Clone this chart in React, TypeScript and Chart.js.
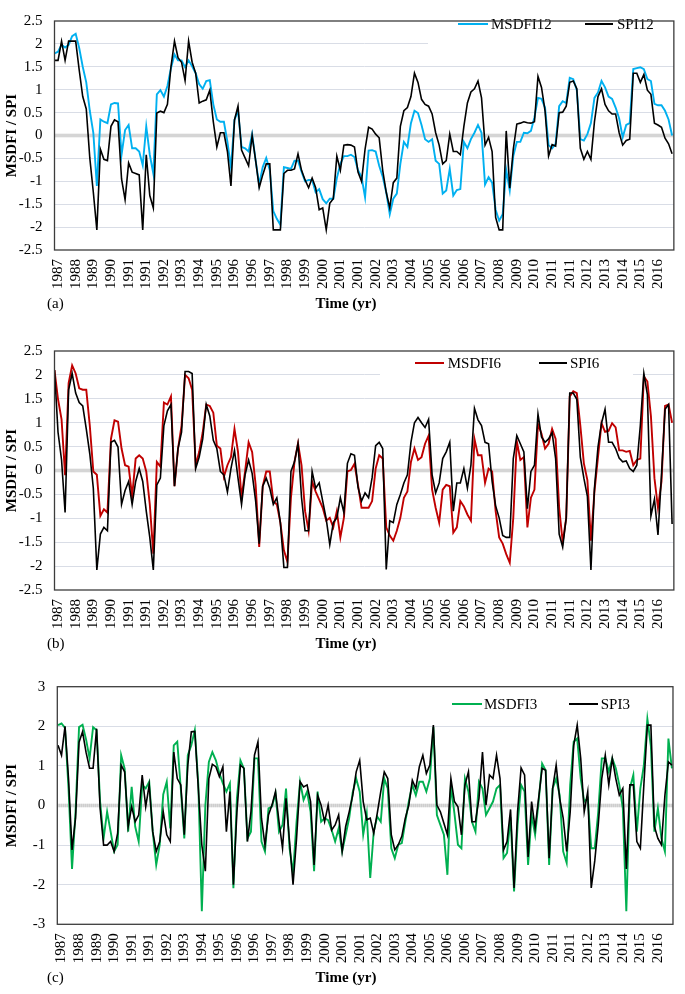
import React, { useEffect, useRef } from 'react';
import { Chart, registerables } from 'chart.js';

Chart.register(...registerables);

// ---------- data ----------
const YEAR_LABELS = [
  '1987', '1988', '1989', '1990', '1991', '1991', '1992', '1993', '1994', '1995',
  '1996', '1996', '1997', '1998', '1999', '2000', '2001', '2001', '2002', '2003',
  '2004', '2005', '2006', '2006', '2007', '2008', '2009', '2010', '2011', '2011',
  '2012', '2013', '2014', '2015', '2016',
];
const LABEL_START = 2; // month index of first labelled category
const LABEL_EVERY = 10; // months between labels
const SAMPLE_STEP = 2; // months between data samples

const MSDFI12 = [
  1.79, 1.83, 1.98, 1.92, 1.98, 2.17, 2.22, 1.91, 1.5, 1.16, 0.54, 0.06, -1.1, 0.35, 0.3, 0.27, 0.68, 0.71, 0.7, -0.42, 0.12, 0.23,
  -0.28, -0.28, -0.35, -0.65, 0.2, -0.42, -0.83, 0.9, 0.99, 0.85, 1.08, 1.47, 1.77, 1.64, 1.64, 1.49, 1.64, 1.51, 1.36, 1.12, 1.02, 1.19,
  1.21, 0.68, 0.35, 0.3, 0.3, -0.14, -0.7, 0.34, 0.54, -0.25, -0.28, -0.35, 0.03, -0.55, -1.07, -0.69, -0.49, -0.76, -1.65, -1.82, -1.95, -0.69,
  -0.71, -0.73, -0.55, -0.55, -0.79, -1.0, -0.97, -0.97, -1.24, -1.17, -1.39, -1.48, -1.38, -1.38, -0.93, -0.62, -0.45, -0.45, -0.42, -0.47, -0.76, -0.9,
  -1.35, -0.33, -0.32, -0.35, -0.66, -0.9, -1.24, -1.72, -1.38, -1.27, -0.62, -0.14, -0.25, 0.27, 0.54, 0.49, 0.23, -0.08, -0.14, -0.08, -0.55, -0.62,
  -1.27, -1.2, -0.73, -1.31, -1.19, -1.17, -0.14, -0.28, -0.08, 0.06, 0.23, 0.06, -1.07, -0.91, -1.03, -1.62, -1.86, -1.72, -0.75, -1.2, -0.45, -0.14,
  -0.14, 0.06, 0.05, 0.1, 0.4, 0.82, 0.8, 0.61, -0.21, -0.28, -0.18, 0.64, 0.75, 0.71, 1.26, 1.23, 0.99, -0.08, -0.11, 0.03, 0.27, 0.82,
  0.94, 1.19, 1.05, 0.85, 0.8, 0.61, 0.37, -0.04, 0.23, 0.27, 1.45, 1.47, 1.49, 1.45, 1.23, 1.19, 0.69, 0.66, 0.66, 0.54, 0.35, 0.0,
];
const SPI12 = [
  1.64, 1.64, 2.06, 1.64, 2.06, 2.06, 2.06, 1.43, 0.85, 0.58, -0.49, -1.24, -2.06, -0.3, -0.52, -0.55, 0.2, 0.34, 0.3, -0.95, -1.4, -0.6,
  -0.8, -0.83, -0.86, -2.06, -0.42, -1.31, -1.58, 0.49, 0.53, 0.5, 0.68, 1.5, 2.06, 1.7, 1.6, 1.2, 2.06, 1.6, 1.36, 0.71, 0.75, 0.78,
  0.99, 0.3, -0.25, 0.06, 0.06, -0.35, -1.1, 0.34, 0.64, -0.32, -0.49, -0.66, 0.0, -0.55, -1.14, -0.86, -0.62, -0.62, -2.06, -2.06, -2.06, -0.83,
  -0.76, -0.76, -0.73, -0.4, -0.76, -0.97, -1.14, -0.93, -1.14, -1.62, -1.58, -2.06, -1.48, -1.38, -0.45, -0.76, -0.21, -0.2, -0.21, -0.25, -0.8, -1.0,
  -0.3, 0.18, 0.14, 0.03, -0.05, -0.76, -1.24, -1.58, -1.03, -0.93, 0.2, 0.54, 0.61, 0.85, 1.36, 1.16, 0.79, 0.68, 0.64, 0.47, 0.06, -0.21,
  -0.62, -0.55, 0.03, -0.35, -0.35, -0.42, 0.2, 0.71, 0.95, 1.02, 1.19, 0.82, -0.21, -0.04, -0.35, -1.79, -2.06, -2.06, 0.1, -1.15, -0.3, 0.25,
  0.27, 0.3, 0.28, 0.27, 0.3, 1.29, 1.05, 0.54, -0.45, -0.2, -0.23, 0.5, 0.51, 0.64, 1.16, 1.19, 1.02, -0.28, -0.52, -0.35, -0.52, 0.3,
  0.85, 1.02, 0.68, 0.54, 0.47, 0.47, 0.06, -0.21, -0.11, -0.08, 1.36, 1.36, 1.16, 1.33, 0.99, 0.9, 0.27, 0.23, 0.18, -0.06, -0.18, -0.4,
];
const MSDFI6 = [
  2.1, 1.49, 1.07, -0.1, 1.83, 2.2, 2.03, 1.72, 1.69, 1.69, 0.94, -0.02, -0.09, -0.95, -0.81, -0.88, 0.66, 1.05, 1.02, 0.46, 0.11, 0.08,
  -0.54, 0.25, 0.32, 0.25, -0.02, -0.71, -1.74, 0.18, 0.08, 1.42, 1.38, 1.55, -0.33, 0.46, 0.94, 2.0, 1.93, 1.69, 0.11, 0.39, 0.8, 1.38,
  1.35, 1.21, 0.52, 0.46, -0.13, 0.11, 0.28, 0.87, 0.39, -0.57, -0.02, 0.59, 0.39, -0.3, -1.6, -0.33, -0.02, -0.02, -0.64, -0.71, -1.09, -1.67,
  -1.91, -0.57, 0.18, 0.57, 0.11, -0.85, -1.26, -0.23, -0.44, -0.61, -0.78, -1.05, -0.99, -1.19, -0.85, -1.4, -0.99, -0.02, 0.01, 0.14, -0.3, -0.78,
  -0.78, -0.78, -0.64, 0.04, 0.32, 0.25, -1.19, -1.36, -1.47, -1.26, -0.99, -0.57, -0.44, 0.18, 0.46, 0.22, 0.28, 0.56, 0.73, -0.4, -0.78, -1.09,
  -0.4, -0.3, -0.33, -1.3, -1.19, -0.64, -0.75, -0.92, -1.05, 0.66, 0.32, 0.32, -0.26, 0.04, -0.02, -0.85, -1.4, -1.53, -1.75, -1.93, -0.99, 0.61,
  0.22, 0.28, -1.19, -0.57, -0.4, 0.97, 0.77, 0.46, 0.56, 0.87, 0.66, -0.78, -1.5, -0.99, 1.55, 1.66, 1.62, 0.94, 0.15, -0.2, -1.47, -0.44,
  0.28, 0.99, 0.81, 0.83, 0.99, 0.9, 0.42, 0.42, 0.39, 0.41, 0.11, 0.22, 0.25, 1.97, 1.86, 1.14, -0.16, -0.78, -0.23, 1.35, 1.38, 1.0,
];
const SPI6 = [
  2.1, 0.8, 0.22, -0.88, 1.69, 2.03, 1.62, 1.42, 1.35, 0.87, 0.35, -0.37, -2.08, -1.33, -1.19, -1.26, 0.59, 0.63, 0.49, -0.71, -0.42, -0.23,
  -0.71, -0.23, 0.04, -0.23, -0.85, -1.4, -2.08, -0.3, -0.16, 0.94, 1.25, 1.38, -0.33, 0.46, 0.8, 2.07, 2.07, 2.03, 0.04, 0.28, 0.66, 1.38,
  1.14, 0.63, 0.46, -0.02, -0.09, -0.45, 0.04, 0.42, -0.16, -0.71, -0.09, 0.22, -0.06, -0.64, -1.53, -0.33, -0.16, -0.37, -0.71, -0.57, -1.09, -2.03,
  -2.03, -0.02, 0.18, 0.56, -0.57, -1.26, -1.26, -0.02, -0.37, -0.26, -0.64, -1.02, -1.55, -1.09, -0.99, -0.57, -0.88, 0.15, 0.35, 0.32, -0.35, -0.64,
  -0.47, -0.57, -0.15, 0.52, 0.59, 0.46, -2.07, -1.05, -1.09, -0.71, -0.5, -0.26, -0.09, 0.59, 1.0, 1.11, 1.0, 0.9, 1.07, -0.09, -0.47, -0.26,
  0.25, 0.39, 0.59, -0.85, -0.26, -0.26, 0.04, -0.37, 0.11, 1.3, 1.06, 0.94, 0.59, 0.56, -0.23, -0.74, -0.99, -1.36, -1.4, -1.4, 0.25, 0.73,
  0.56, 0.39, -0.8, -0.02, 0.11, 1.18, 0.7, 0.59, 0.66, 0.79, 0.25, -1.33, -1.6, -0.99, 1.62, 1.62, 1.49, 0.28, -0.16, -0.54, -2.08, -0.37,
  0.49, 0.99, 1.28, 0.59, 0.59, 0.46, 0.26, 0.18, 0.2, 0.04, -0.02, 0.11, 0.94, 2.03, 1.59, -0.95, -0.6, -1.35, -0.09, 1.28, 1.38, -1.12,
];
const MSDFI3 = [
  2.03, 2.07, 1.96, 0.43, -1.6, -0.16, 1.98, 2.04, 1.67, 1.19, 1.98, 1.9, 0.1, -0.83, -0.16, -0.66, -1.16, -0.99, 1.27, 0.93, -0.66, 0.47,
  -0.53, -0.91, 0.52, 0.43, 0.6, -0.66, -1.5, -0.99, 0.28, 0.6, -0.58, 1.52, 1.61, 0.43, -0.83, 1.27, 1.52, 1.9, 0.52, -2.67, 0.0, 1.1,
  1.35, 1.14, 0.81, 0.56, 0.35, 0.56, -2.09, 0.18, 1.14, 0.93, -0.83, -0.66, 1.19, 1.19, -0.91, -1.16, -0.07, -0.03, 0.31, -0.66, -0.49, 0.43,
  -1.08, -1.71, -0.41, 0.6, 0.14, 0.35, -0.16, -1.66, 0.35, -0.41, -0.32, -0.37, -0.62, -0.91, -0.58, -1.16, -0.74, -0.32, 0.33, 0.68, 0.35, -0.74,
  -0.2, -1.83, -0.66, -0.28, -0.41, 0.68, 0.43, -1.08, -1.33, -0.99, -0.95, -0.41, 0.1, 0.52, 0.26, 0.6, 0.6, 0.35, 0.68, 1.98, -0.24, -0.49,
  -0.74, -1.75, 0.52, -0.2, -0.99, -1.08, 0.68, 0.35, -0.41, -0.66, 0.6, 0.43, -0.24, -0.07, 0.1, 0.43, 0.52, -1.33, -1.2, -0.3, -2.17, -0.49,
  0.52, 0.35, -1.5, -0.24, -0.74, 0.1, 1.06, 0.89, -1.5, 0.43, 0.68, 0.26, -1.16, -1.45, 0.52, 1.61, 1.69, 0.68, 0.1, 0.18, -1.08, -1.08,
  -0.16, 1.19, 1.19, 0.85, 1.19, 0.94, 0.52, -0.07, -2.67, 0.43, 0.77, -0.66, 0.43, 1.02, 2.19, 1.5, -0.66, -0.07, -0.83, -1.16, 1.69, 0.94,
];
const SPI3 = [
  1.52, 1.27, 2.0, 0.68, -1.12, -0.32, 1.6, 1.86, 1.34, 0.94, 0.94, 1.94, -0.07, -1.0, -1.0, -0.91, -1.16, -0.7, 1.02, 0.85, -0.53, -0.03,
  -0.41, -0.24, 0.77, -0.03, 0.52, -0.66, -1.16, -0.91, -0.16, -0.74, -0.91, 1.35, 0.68, 0.52, -0.74, 1.02, 1.86, 1.87, 0.43, -1.0, -1.66, 0.68,
  1.04, 0.98, 0.73, 0.98, -0.66, 0.35, -2.0, -0.16, 1.02, 0.94, -0.91, -0.16, 1.27, 1.61, -0.32, -1.0, -0.24, 0.01, 0.35, -0.41, -1.08, 0.18,
  -0.91, -2.0, -0.83, 0.6, 0.47, 0.52, 0.1, -1.5, 0.26, 0.01, -0.41, 0.01, -0.62, -0.49, -0.24, -1.16, -0.53, -0.16, 0.25, 0.85, 1.14, 0.1,
  -0.36, -0.32, -0.7, -0.2, 0.35, 0.85, 0.68, -0.74, -1.12, -0.99, -0.78, -0.32, 0.01, 0.64, 0.43, 0.98, 1.27, 0.81, 1.02, 2.03, 0.01, -0.16,
  -0.45, -0.74, 0.68, 0.1, -0.03, -0.74, 0.52, 0.85, -0.41, -0.41, 0.18, 1.35, 0.01, 0.77, 0.68, 1.27, 0.68, -1.12, -0.91, -0.1, -2.08, -0.16,
  0.95, 0.77, -1.3, 0.1, -0.57, 0.18, 0.94, 0.89, -1.33, 0.43, 1.02, 0.18, -0.32, -1.16, -0.16, 1.52, 2.03, 1.19, -0.16, 0.35, -2.08, -1.4,
  -0.49, 0.68, 1.27, 0.52, 1.19, 0.68, 0.26, 0.43, -1.6, 0.52, 0.52, -0.91, -1.08, 0.52, 2.03, 2.03, -0.53, -0.83, -0.99, 0.26, 1.1, 1.02,
];

// ---------- styling / layout ----------
const SERIF = '"Liberation Serif", "Times New Roman", Times, serif';
const W = 685;

type Panel = {
  tag: string;
  top: number;
  height: number;
  padTop: number;
  padRight: number;
  yAxisW: number;
  xAxisH: number;
  xMin: number;
  xMax: number;
  yMin: number;
  yMax: number;
  yStep: number;
  colorName: string;
  colorVals: number[];
  color: string;
  blackName: string;
  blackVals: number[];
  legend: { box: number[]; y: number; items: { x0: number; x1: number; tx: number }[] };
  titleX: number;
  titleY: number;
  tagX: number;
};

const PANELS: Panel[] = [
  {
    tag: '(a)', top: 0, height: 315, padTop: 8.3, padRight: 1, yAxisW: 54.5, xAxisH: 65,
    xMin: 0, xMax: 351, yMin: -2.5, yMax: 2.5, yStep: 0.5,
    colorName: 'MSDFI12', colorVals: MSDFI12, color: '#00B0F0', blackName: 'SPI12', blackVals: SPI12,
    legend: { box: [428, 9.5, 683, 44], y: 24, items: [{ x0: 458, x1: 488, tx: 491 }, { x0: 585, x1: 613, tx: 617 }] },
    titleX: 346, titleY: 304, tagX: 47,
  },
  {
    tag: '(b)', top: 330, height: 325, padTop: 17.3, padRight: 1, yAxisW: 54.5, xAxisH: 65,
    xMin: 0, xMax: 351, yMin: -2.5, yMax: 2.5, yStep: 0.5,
    colorName: 'MSDFI6', colorVals: MSDFI6, color: '#C00000', blackName: 'SPI6', blackVals: SPI6,
    legend: { box: [380, 18, 633, 56], y: 33, items: [{ x0: 415, x1: 444, tx: 447.7 }, { x0: 539, x1: 567, tx: 570 }] },
    titleX: 346, titleY: 314, tagX: 47,
  },
  {
    tag: '(c)', top: 660, height: 334, padTop: 26.7, padRight: 4.3, yAxisW: 57.3, xAxisH: 69.7,
    xMin: -0.4, xMax: 350.6, yMin: -3, yMax: 3, yStep: 1,
    colorName: 'MSDFI3', colorVals: MSDFI3, color: '#00B050', blackName: 'SPI3', blackVals: SPI3,
    legend: { box: [430, 28, 650, 60], y: 44, items: [{ x0: 452, x1: 482, tx: 484 }, { x0: 569, x1: 598, tx: 600.7 }] },
    titleX: 346, titleY: 318, tagX: 47,
  },
];

const toPoints = (vals: number[]) => vals.map((v, i) => ({ x: i * SAMPLE_STEP, y: v }));

const decoPlugin = {
  id: 'panelDeco',
  beforeDatasetsDraw(chart: any, _args: any, opts: any) {
    const { ctx, chartArea: a, scales } = chart;
    const y0 = scales.y.getPixelForValue(0);
    ctx.save();
    ctx.lineWidth = 3.5;
    ctx.strokeStyle = '#e6e6e6';
    ctx.beginPath();
    ctx.moveTo(a.left, y0);
    ctx.lineTo(a.right, y0);
    ctx.stroke();
    ctx.setLineDash([1, 1]);
    ctx.strokeStyle = '#c4c4c4';
    ctx.stroke();
    ctx.setLineDash([]);
    const b = opts.box;
    ctx.fillStyle = '#ffffff';
    ctx.fillRect(b[0], b[1], b[2] - b[0], b[3] - b[1]);
    ctx.restore();
  },
  afterDatasetsDraw(chart: any, _args: any, opts: any) {
    const { ctx } = chart;
    ctx.save();
    ctx.font = `15px ${SERIF}`;
    ctx.textBaseline = 'middle';
    ctx.textAlign = 'left';
    ctx.fillStyle = '#000';
    opts.items.forEach((it: any, i: number) => {
      const ds = chart.data.datasets[i];
      ctx.strokeStyle = ds.borderColor;
      ctx.lineWidth = 2;
      ctx.beginPath();
      ctx.moveTo(it.x0, opts.y);
      ctx.lineTo(it.x1, opts.y);
      ctx.stroke();
      ctx.fillText(ds.label, it.tx, opts.y + 1);
    });
    ctx.restore();
  },
  afterDraw(chart: any, _args: any, opts: any) {
    const { ctx, chartArea: a } = chart;
    ctx.save();
    ctx.strokeStyle = '#3c3c3c';
    ctx.lineWidth = 1.3;
    ctx.strokeRect(a.left, a.top, a.right - a.left, a.bottom - a.top);
    ctx.fillStyle = '#000';
    ctx.textBaseline = 'middle';
    ctx.font = `bold 15px ${SERIF}`;
    ctx.textAlign = 'center';
    ctx.fillText('Time (yr)', opts.titleX, opts.titleY);
    ctx.font = `15px ${SERIF}`;
    ctx.textAlign = 'left';
    ctx.fillText(opts.tag, opts.tagX, opts.titleY);
    ctx.restore();
  },
};

function buildConfig(p: Panel): any {
  const tickPositions = YEAR_LABELS.map((_, i) => LABEL_START + i * LABEL_EVERY);
  return {
    type: 'line',
    data: {
      datasets: [
        { label: p.colorName, data: toPoints(p.colorVals), borderColor: p.color, borderWidth: 1.9, pointRadius: 0, tension: 0, order: 1 },
        { label: p.blackName, data: toPoints(p.blackVals), borderColor: '#000000', borderWidth: 1.6, pointRadius: 0, tension: 0, order: 0 },
      ],
    },
    options: {
      animation: false,
      responsive: false,
      maintainAspectRatio: false,
      events: [],
      layout: { padding: { top: p.padTop, right: p.padRight, bottom: 0, left: 0 } },
      plugins: {
        legend: { display: false },
        tooltip: { enabled: false },
        panelDeco: {
          box: p.legend.box, y: p.legend.y, items: p.legend.items,
          tag: p.tag, tagX: p.tagX, titleX: p.titleX, titleY: p.titleY,
        },
      },
      scales: {
        x: {
          type: 'linear',
          min: p.xMin,
          max: p.xMax,
          afterBuildTicks: (s: any) => {
            s.ticks = tickPositions.map((v) => ({ value: v }));
          },
          afterFit: (s: any) => {
            s.height = p.xAxisH;
          },
          ticks: {
            autoSkip: false,
            maxRotation: 90,
            minRotation: 90,
            padding: 9,
            color: '#000',
            font: { family: SERIF, size: 15 },
            callback: (_v: any, i: number) => YEAR_LABELS[i],
          },
          grid: { display: false, drawTicks: false },
          border: { display: false },
          title: { display: false },
        },
        y: {
          min: p.yMin,
          max: p.yMax,
          afterFit: (s: any) => {
            s.width = p.yAxisW;
          },
          ticks: {
            stepSize: p.yStep,
            padding: 12,
            color: '#000',
            font: { family: SERIF, size: 15 },
            callback: (v: any) => String(Math.round(Number(v) * 10) / 10),
          },
          grid: {
            drawTicks: false,
            lineWidth: 1,
            color: (c: any) => {
              const v = c.tick ? c.tick.value : NaN;
              if (v === 0 || v === p.yMin || v === p.yMax) return 'rgba(0,0,0,0)';
              return '#d9dde6';
            },
          },
          border: { display: false },
          title: {
            display: true,
            text: 'MSDFI / SPI',
            color: '#000',
            font: { family: SERIF, size: 15, weight: 'bold' },
            padding: { top: 3, bottom: 0 },
          },
        },
      },
    },
    plugins: [decoPlugin],
  };
}

function PanelChart({ p }: { p: Panel }) {
  const ref = useRef<HTMLCanvasElement>(null);
  useEffect(() => {
    if (!ref.current) return;
    const chart = new Chart(ref.current, buildConfig(p));
    return () => chart.destroy();
  }, [p]);
  return (
    <canvas
      ref={ref}
      width={W}
      height={p.height}
      style={{ position: 'absolute', left: 0, top: p.top, width: W, height: p.height, display: 'block' }}
    />
  );
}

export default function App() {
  return (
    <div style={{ position: 'absolute', left: 0, top: 0, width: W, height: 994, background: '#fff', overflow: 'hidden' }}>
      {PANELS.map((p) => (
        <PanelChart key={p.tag} p={p} />
      ))}
    </div>
  );
}
